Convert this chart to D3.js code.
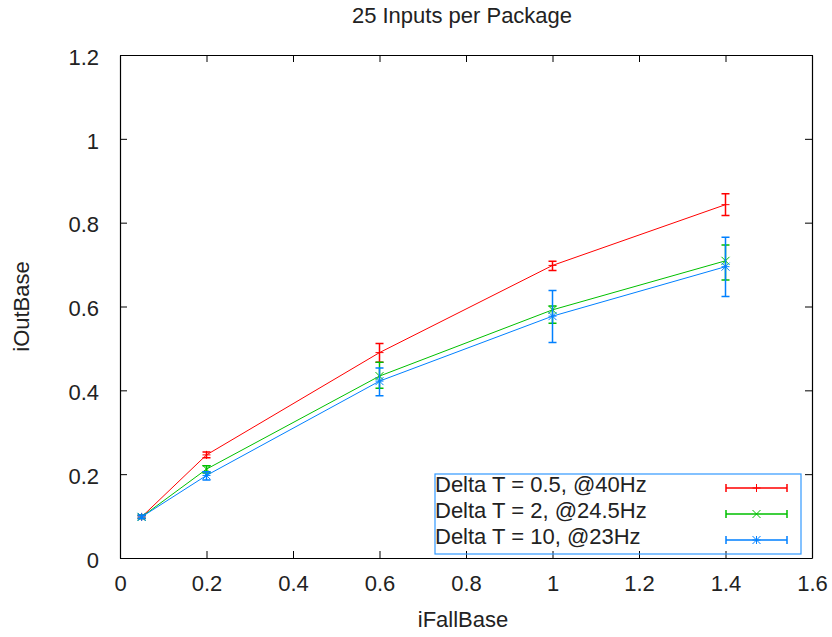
<!DOCTYPE html>
<html>
<head>
<meta charset="utf-8">
<script src="https://cdn.jsdelivr.net/npm/d3@7"></script>
<style>
  body { margin: 0; background: #fff; }
  text { font-family: "Liberation Sans", Arial, sans-serif; fill: #222; }
</style>
</head>
<body>
<div id="chart"></div>
<script>
// 25 inputs per package - gnuplot-ish line chart with y error bars

const width = 832
const height = 637
const margin = {left: 120, right: 20, top: 55, bottom: 79}
const fontSize = '22px'

const xValues = [0.05, 0.2, 0.6, 1.0, 1.4]
const seriesNames = ['Delta T = 0.5, @40Hz', 'Delta T = 2, @24.5Hz', 'Delta T = 10, @23Hz']
const seriesColors = ['#ff0000', '#00c000', '#0080ff']
const seriesMarkers = ['plus', 'cross', 'star']

// y value, low and high of the error bar
const redY    = [0.098, 0.246, 0.490, 0.698, 0.843]
const redLow  = [0.094, 0.239, 0.467, 0.686, 0.817]
const redHigh = [0.102, 0.253, 0.512, 0.708, 0.869]

const greenY    = [0.098, 0.212, 0.434, 0.592, 0.709]
const greenLow  = [0.094, 0.203, 0.405, 0.560, 0.663]
const greenHigh = [0.102, 0.220, 0.467, 0.601, 0.747]

const blueY    = [0.098, 0.197, 0.422, 0.577, 0.695]
const blueLow  = [0.094, 0.186, 0.387, 0.514, 0.624]
const blueHigh = [0.102, 0.206, 0.453, 0.638, 0.765]

const xTicks = [0, 0.2, 0.4, 0.6, 0.8, 1, 1.2, 1.4, 1.6]
const yTicks = [0, 0.2, 0.4, 0.6, 0.8, 1, 1.2]

const series = [
  {y: redY, lo: redLow, hi: redHigh},
  {y: greenY, lo: greenLow, hi: greenHigh},
  {y: blueY, lo: blueLow, hi: blueHigh}
].map((s, i) => ({
  name: seriesNames[i], color: seriesColors[i], marker: seriesMarkers[i],
  points: xValues.map((x, j) => ({x: x, y: s.y[j], lo: s.lo[j], hi: s.hi[j]}))
}))

const svg = d3.select('#chart')
  .append('svg')
  .attr('width', width)
  .attr('height', height)

const xScale = d3.scaleLinear()
  .domain([0, 1.6])
  .range([margin.left, width - margin.right])

const yScale = d3.scaleLinear()
  .domain([0, 1.2])
  .range([height - margin.bottom, margin.top])

const tickLen = 7

// inner ticks on all four sides (mirror)
const xAxisBottom = d3.axisBottom(xScale).tickValues(xTicks).tickFormat(d3.format('~g'))
  .tickSizeInner(-tickLen).tickSizeOuter(0).tickPadding(17)
const xAxisTop = d3.axisTop(xScale).tickValues(xTicks).tickFormat('')
  .tickSizeInner(-tickLen).tickSizeOuter(0)
const yAxisLeft = d3.axisLeft(yScale).tickValues(yTicks).tickFormat(d3.format('~g'))
  .tickSizeInner(-tickLen).tickSizeOuter(0).tickPadding(21)
const yAxisRight = d3.axisRight(yScale).tickValues(yTicks).tickFormat('')
  .tickSizeInner(-tickLen).tickSizeOuter(0)

const axes = [
  [xAxisBottom, `translate(0,${yScale(0)})`],
  [xAxisTop, `translate(0,${yScale(1.2)})`],
  [yAxisLeft, `translate(${xScale(0)},0)`],
  [yAxisRight, `translate(${xScale(1.6)},0)`]
]
axes.forEach(([ax, tr]) => {
  const g = svg.append('g').attr('transform', tr).call(ax)
  g.select('.domain').attr('stroke', '#000').attr('stroke-width', 1.2)
  g.selectAll('.tick line').attr('stroke', '#000')
  g.selectAll('.tick text')
    .style('font-family', '"Liberation Sans", Arial, sans-serif')
    .style('font-size', fontSize)
    .attr('fill', '#222')
})
svg.selectAll('.tick text').filter(function() { return this.getAttribute('x') !== null && +this.getAttribute('x') < 0 })
  .attr('dy', '0.42em')

// markers
function markerPath(kind, x, y, r) {
  const p = d3.path()
  if (kind === 'plus' || kind === 'star') {
    p.moveTo(x - r, y); p.lineTo(x + r, y)
    p.moveTo(x, y - r); p.lineTo(x, y + r)
  }
  if (kind === 'cross' || kind === 'star') {
    p.moveTo(x - r, y - r); p.lineTo(x + r, y + r)
    p.moveTo(x - r, y + r); p.lineTo(x + r, y - r)
  }
  return p.toString()
}

const line = d3.line()
  .x(d => xScale(d.x))
  .y(d => yScale(d.y))

const capW = 4

series.forEach(s => {
  const g = svg.append('g').attr('stroke', s.color).attr('fill', 'none')

  g.append('path')
    .attr('d', line(s.points))
    .attr('stroke-width', 1)

  // error bars
  s.points.forEach(d => {
    const x = xScale(d.x)
    const p = d3.path()
    p.moveTo(x, yScale(d.lo)); p.lineTo(x, yScale(d.hi))
    p.moveTo(x - capW, yScale(d.lo)); p.lineTo(x + capW, yScale(d.lo))
    p.moveTo(x - capW, yScale(d.hi)); p.lineTo(x + capW, yScale(d.hi))
    g.append('path').attr('d', p.toString()).attr('stroke-width', 1.5)
    g.append('path').attr('d', markerPath(s.marker, x, yScale(d.y), 4)).attr('stroke-width', 1)
  })
})

// legend
const legend = svg.append('g')
legend.append('rect')
  .attr('x', 435).attr('y', 474)
  .attr('width', 366).attr('height', 80)
  .attr('fill', 'none')
  .attr('stroke', '#3399ff')
  .attr('stroke-width', 1.2)

series.forEach((s, i) => {
  const y = 488 + i * 26
  legend.append('text')
    .attr('x', 435)
    .attr('y', y + 4)
    .style('font-size', fontSize)
    .text(s.name)
  const x1 = 726, x2 = 787, xm = (x1 + x2) / 2
  const p = d3.path()
  p.moveTo(x1, y); p.lineTo(x2, y)
  p.moveTo(x1, y - capW); p.lineTo(x1, y + capW)
  p.moveTo(x2, y - capW); p.lineTo(x2, y + capW)
  legend.append('path').attr('d', p.toString()).attr('stroke', s.color).attr('stroke-width', 1.5).attr('fill', 'none')
  legend.append('path').attr('d', markerPath(s.marker, xm, y, 4)).attr('stroke', s.color).attr('stroke-width', 1).attr('fill', 'none')
})

// titles
svg.append('text')
  .attr('x', 462).attr('y', 23)
  .attr('text-anchor', 'middle')
  .style('font-size', fontSize)
  .text('25 Inputs per Package')

svg.append('text')
  .attr('x', 463).attr('y', 627)
  .attr('text-anchor', 'middle')
  .style('font-size', fontSize)
  .text('iFallBase')

svg.append('text')
  .attr('transform', `translate(29,${(yScale(0) + yScale(1.2)) / 2}) rotate(-90)`)
  .attr('text-anchor', 'middle')
  .style('font-size', fontSize)
  .text('iOutBase')
</script>
</body>
</html>
